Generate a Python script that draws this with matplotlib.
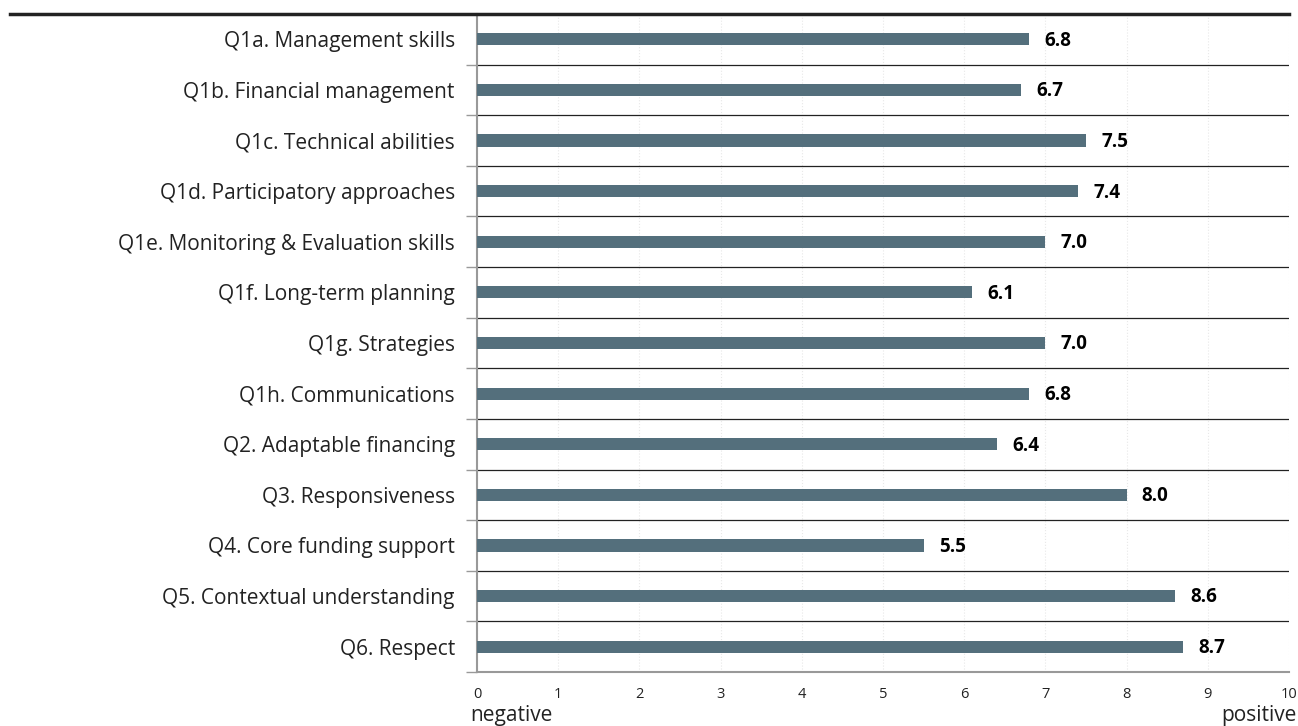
import numpy as np
import matplotlib.pyplot as plt
from matplotlib.lines import Line2D

plt.rcParams['font.family'] = ['Open Sans', 'DejaVu Sans']

labels = ["Q1a. Management skills", "Q1b. Financial management", "Q1c. Technical abilities",
          "Q1d. Participatory approaches", "Q1e. Monitoring & Evaluation skills",
          "Q1f. Long-term planning", "Q1g. Strategies", "Q1h. Communications",
          "Q2. Adaptable financing", "Q3. Responsiveness", "Q4. Core funding support",
          "Q5. Contextual understanding", "Q6. Respect"]
values = [6.8, 6.7, 7.5, 7.4, 7.0, 6.1, 7.0, 6.8, 6.4, 8.0, 5.5, 8.6, 8.7]
xticks = list(range(0, 11))

fig = plt.figure(figsize=(12.98, 7.26), dpi=100)
ax = fig.add_axes([0.3675, 0.0744, 0.6255, 0.9063])

y = np.arange(len(labels))
ax.barh(y, values, height=0.24, color='#546f7c', zorder=3)
for yi, v in zip(y, values):
    ax.annotate(f"{v:.1f}", (v, yi), xytext=(11, -1), textcoords='offset points',
                va='center', ha='left', fontsize=13.5, fontweight='bold', color='black')

ax.set_xlim(0, 10)
ax.set_ylim(len(labels) - 0.5, -0.5)
ax.set_xticks(xticks)
ax.set_xticklabels([str(t) for t in xticks], fontsize=10.5, color='#222222')
ax.tick_params(axis='x', length=0, pad=11)
ax.set_yticks(y)
ax.set_yticklabels(labels, fontsize=15, color='#222222')
ax.tick_params(axis='y', which='major', length=0, pad=16)
ax.set_yticks(np.arange(-0.5, len(labels)), minor=True)
ax.tick_params(axis='y', which='minor', length=8, width=1, color='#999999')

for b in np.arange(0.5, len(labels) - 1):
    ax.axhline(b, color='#222222', lw=0.9, zorder=2)
ax.grid(axis='x', color='#e8e8e8', lw=0.8, ls=':', zorder=0)

for s in ['top', 'right']:
    ax.spines[s].set_visible(False)
ax.spines['left'].set_color('#999999')
ax.spines['left'].set_linewidth(1.5)
ax.spines['bottom'].set_color('#999999')
ax.spines['bottom'].set_linewidth(1.5)

fig.add_artist(Line2D([10 / 1298, 1289 / 1298], [1 - 14 / 726, 1 - 14 / 726],
                      transform=fig.transFigure, color='#222222', lw=2.5))
fig.text(470 / 1298, 1 - 716 / 726, "negative", fontsize=15, color='#222222', ha='left', va='center')
fig.text(1297 / 1298, 1 - 716 / 726, "positive", fontsize=15, color='#222222', ha='right', va='center')

plt.savefig('out.png', dpi=100)
